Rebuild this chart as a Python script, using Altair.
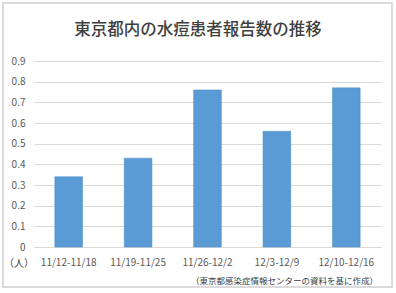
import altair as alt
import pandas as pd

weeks = ["11/12-11/18", "11/19-11/25", "11/26-12/2", "12/3-12/9", "12/10-12/16"]
values = [0.34, 0.43, 0.76, 0.56, 0.77]
title_text = "東京都内の水痘患者報告数の推移"
unit_text = "（人）"
source_text = "（東京都感染症情報センターの資料を基に作成）"

df = pd.DataFrame({"week": weeks, "value": values})

W, H = 347, 186
PL, PT = 34, 61

FONT = "Noto Sans CJK JP"

base = alt.Chart(df)

border = alt.Chart(pd.DataFrame({"a": [0]})).mark_rect(
    fillOpacity=0, stroke="#d0d0d0", strokeWidth=1.5, clip=False
).encode(
    x=alt.value(3 - PL), x2=alt.value(392 - PL),
    y=alt.value(3 - PT), y2=alt.value(287 - PT)
)

bars = base.mark_bar(color="#5b9bd5", stroke="#4f8cc4", strokeWidth=0.5).encode(
    x=alt.X("week:N", sort=weeks, title=None,
            scale=alt.Scale(paddingInner=0.6, paddingOuter=0.3),
            axis=alt.Axis(labelAngle=0, ticks=False, domainColor="#d9d9d9",
                          labelColor="#595959", labelFontSize=10, labelPadding=10,
                          labelFont=FONT, grid=False)),
    y=alt.Y("value:Q", title=None,
            scale=alt.Scale(domain=[0, 0.9], nice=False),
            axis=alt.Axis(values=[i / 10 for i in range(10)], format=".1~f",
                          ticks=False, domain=False, gridColor="#d9d9d9",
                          labelColor="#595959", labelFontSize=10, labelPadding=9,
                          labelFont=FONT)),
)

ann = pd.DataFrame({"t": [title_text]})
title = alt.Chart(ann).mark_text(
    fontSize=16.5, fontWeight=500, color="#404040", font=FONT, align="center", baseline="middle"
).encode(x=alt.value(198 - PL), y=alt.value(30 - PT), text="t:N")

unit = alt.Chart(pd.DataFrame({"t": [unit_text]})).mark_text(
    fontSize=10, color="#404040", font=FONT, align="left", baseline="middle"
).encode(x=alt.value(4 - PL), y=alt.value(264 - PT), text="t:N")

source = alt.Chart(pd.DataFrame({"t": [source_text]})).mark_text(
    fontSize=8.5, color="#404040", font=FONT, align="right", baseline="middle"
).encode(x=alt.value(378 - PL), y=alt.value(281 - PT), text="t:N")

chart = alt.layer(border, bars, title, unit, source).properties(
    width=W, height=H,
    autosize=alt.AutoSizeParams(type="none"),
    padding={"left": PL, "top": PT, "right": 396 - PL - W, "bottom": 293 - PT - H},
    background="white",
).configure_view(stroke=None)

chart.save("out.html", embed_options={"renderer": "svg", "actions": False})
